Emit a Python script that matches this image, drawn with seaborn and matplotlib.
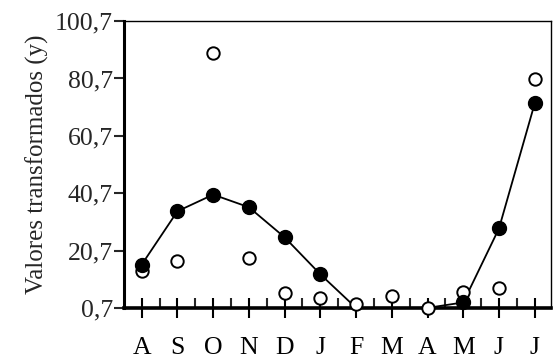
import numpy as np
import pandas as pd
import matplotlib
matplotlib.use("Agg")
import matplotlib.pyplot as plt
from matplotlib.ticker import FixedLocator
import seaborn as sns

months = ["A", "S", "O", "N", "D", "J", "F", "M", "A", "M", "J", "J"]
filled_vals = [15.8, 34.4, 40.2, 35.8, 25.3, 12.4, 0.7, 0.7, 0.7, 2.6, 28.4, 72.0]
filled_marker_shown = [True, True, True, True, True, True, False, False, False, True, True, True]
open_vals = [13.6, 17.0, 89.7, 18.0, 5.9, 4.1, 2.0, 4.8, 0.7, 6.2, 7.5, 80.4]
yticks = [0.7, 20.7, 40.7, 60.7, 80.7, 100.7]
ytick_labels = ["0,7", "20,7", "40,7", "60,7", "80,7", "100,7"]
ylabel = "Valores transformados (y)"

sns.set_theme(style="ticks")
plt.rcParams["font.family"] = ["Liberation Serif", "DejaVu Serif"]

x = np.arange(len(months))
df = pd.DataFrame({"x": x, "filled": filled_vals, "open": open_vals,
                   "show": filled_marker_shown})

fig = plt.figure(figsize=(5.53, 3.58), dpi=100)
ax = fig.add_axes([0.224, 0.140, 0.772, 0.801])

sns.lineplot(data=df, x="x", y="filled", ax=ax, color="black", linewidth=1.3,
             zorder=2)
sns.scatterplot(data=df, x="x", y="open", ax=ax, color="white", edgecolor="black",
                linewidth=1.4, s=80, zorder=3)
sns.scatterplot(data=df[df["show"]], x="x", y="filled", ax=ax, color="black",
                edgecolor="black", linewidth=1, s=100, zorder=4)

ax.set_xlim(-0.5, 11.45)
ax.set_ylim(0.7, 100.7)
ax.set_xticks(x)
ax.set_xticklabels(months)
ax.xaxis.set_minor_locator(FixedLocator(x[:-1] + 0.5))
ax.set_yticks(yticks)
ax.set_yticklabels(ytick_labels)
ax.set_xlabel("")
ax.set_ylabel(ylabel, fontsize=18, labelpad=4)

ax.tick_params(axis="x", which="major", direction="inout", length=14, width=1.5,
               pad=14, labelsize=18.5, colors="black")
ax.tick_params(axis="x", which="minor", direction="in", length=7, width=1.5)
ax.tick_params(axis="y", which="major", direction="out", length=7, width=1.5,
               labelsize=18.5, pad=1)

ax.spines["left"].set_linewidth(2.2)
ax.spines["bottom"].set_linewidth(2.6)
ax.spines["top"].set_linewidth(1.0)
ax.spines["right"].set_linewidth(1.0)
for s in ax.spines.values():
    s.set_color("black")
for coll in ax.collections:
    coll.set_clip_on(False)
for ln in ax.lines:
    ln.set_clip_on(False)

fig.savefig("out.png", dpi=100)
